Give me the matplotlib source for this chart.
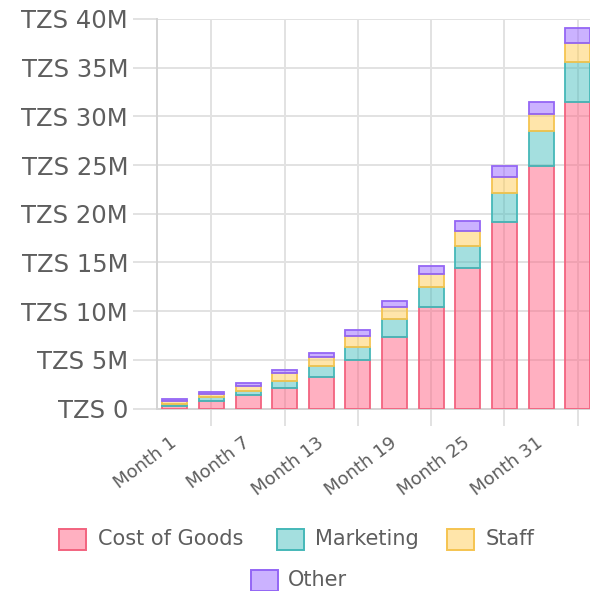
import matplotlib
matplotlib.use("Agg")
import matplotlib.pyplot as plt
from matplotlib.patches import Rectangle
from matplotlib.ticker import FuncFormatter
import numpy as np

# ---- data ----
categories = ["Month 1", "Month 4", "Month 7", "Month 10", "Month 13", "Month 16",
              "Month 19", "Month 22", "Month 25", "Month 28", "Month 31", "Month 34"]
cost_of_goods = [0.30, 0.80, 1.35, 2.14, 3.27, 4.98, 7.37, 10.45, 14.39, 19.15, 24.93, 31.44]
marketing     = [0.20, 0.35, 0.48, 0.71, 1.09, 1.37, 1.79, 1.99, 2.33, 3.01, 3.56, 4.16]
staff         = [0.26, 0.31, 0.48, 0.76, 0.96, 1.09, 1.23, 1.37, 1.53, 1.64, 1.78, 1.96]
other         = [0.20, 0.27, 0.34, 0.34, 0.35, 0.62, 0.68, 0.82, 1.00, 1.13, 1.23, 1.54]
series_names = ["Cost of Goods", "Marketing", "Staff", "Other"]
y_ticks_m = [0, 5, 10, 15, 20, 25, 30, 35, 40]

series = [cost_of_goods, marketing, staff, other]
edge_colors = ["#F2637F", "#45B8B8", "#F5C450", "#9466F5"]
face_colors = [(1.0, 0.388, 0.518, 0.5), (0.294, 0.753, 0.753, 0.5),
               (1.0, 0.804, 0.337, 0.5), (0.6, 0.4, 1.0, 0.5)]

W, H = 590, 591
fig = plt.figure(figsize=(W / 100, H / 100), dpi=100)
ax = fig.add_axes([157 / W, 1 - 408.5 / H, 439 / W, 389.5 / H])

grid_c = "#e2e2e2"
text_c = "#5e5e5e"

x = np.arange(len(categories))
bottom = np.zeros(len(categories))
for vals, fc, ec, name in zip(series, face_colors, edge_colors, series_names):
    v = np.array(vals) * 1e6
    ax.bar(x, v, width=0.683, bottom=bottom, facecolor=fc, edgecolor=ec,
           linewidth=1.3, label=name, zorder=3)
    bottom += v

ax.set_xlim(-0.486, 11.5)
ax.set_ylim(0, 40e6)
ax.set_yticks([t * 1e6 for t in y_ticks_m])
ax.yaxis.set_major_formatter(FuncFormatter(lambda v, p: "TZS 0" if v == 0 else f"TZS {v/1e6:.0f}M"))

# x: gridlines/ticks at odd positions, labels at even positions
ax.set_xticks(x[1::2])
ax.set_xticklabels([])
ax.set_xticks(x[::2], categories[::2], minor=True)
ax.tick_params(axis="x", which="major", length=12, width=1.4, color=grid_c)
ax.tick_params(axis="x", which="minor", length=0, pad=23, labelsize=13, labelcolor=text_c)
for lab in ax.get_xticklabels(minor=True):
    lab.set_rotation(37)
    lab.set_ha("right")
    lab.set_va("center")
    lab.set_rotation_mode("anchor")

ax.tick_params(axis="y", length=17, width=1.4, color=grid_c, pad=3.8,
               labelsize=17.5, labelcolor=text_c)

ax.grid(True, which="major", color=grid_c, linewidth=1.4, zorder=0)
ax.set_axisbelow(True)
for s in ["top", "right"]:
    ax.spines[s].set_visible(False)
for s in ["left", "bottom"]:
    ax.spines[s].set_color("#d4d4d4")
    ax.spines[s].set_linewidth(1.4)

# ---- legend drawn manually (centered rows like the reference) ----
leg_items = [
    (0, 59, 539, 98),
    (1, 277, 539, 315),
    (2, 447, 539, 486),
    (3, 251, 580, 288),
]
bw, bh = 27, 21
for idx, bx, cy, tx in leg_items:
    fig.add_artist(Rectangle((bx / W, 1 - (cy + bh / 2) / H), bw / W, bh / H,
                             transform=fig.transFigure, facecolor=face_colors[idx],
                             edgecolor=edge_colors[idx], linewidth=1.4))
    fig.text(tx / W, 1 - cy / H, series_names[idx], ha="left", va="center",
             fontsize=15, color=text_c)

fig.savefig("out.png", dpi=100)
